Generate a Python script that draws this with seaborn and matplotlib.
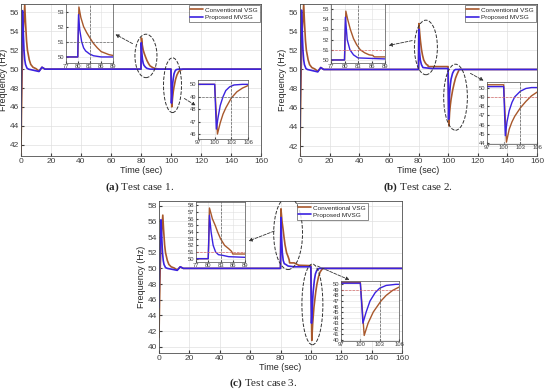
import numpy as np
import pandas as pd
import seaborn as sns
import matplotlib.pyplot as plt
from matplotlib.patches import Ellipse, FancyArrowPatch

# ---- data ----
labels = ['Conventional VSG', 'Proposed MVSG']
colors = ['#A8582C', '#3B22E0']

# Test case 1
t1_conv = [0, 0.3, 0.8, 1.5, 2.5, 3.0, 3.7, 4.3, 5.5, 6.5, 8, 10, 12, 14, 16, 80,
           80.3, 80.8, 81.5, 82.3, 83, 84, 85, 86, 87, 88, 89, 91, 93, 100,
           100.5, 101, 101.5, 102, 102.5, 103, 104, 105, 106, 108, 160]
f1_conv = [41, 45, 50, 54, 56.8, 55, 53, 52, 51, 50.5, 50.2, 50.05, 49.8, 50.2, 50, 50,
           53.3, 52.6, 52.0, 51.6, 51.3, 50.9, 50.6, 50.35, 50.25, 50.15, 50.1, 50.03, 50, 50,
           46.0, 46.9, 47.6, 48.1, 48.5, 48.9, 49.4, 49.7, 49.9, 50, 50]
t1_prop = [0, 0.3, 1.0, 1.5, 2.0, 2.5, 3.0, 4.0, 5, 12, 14, 16, 80,
           80.2, 80.5, 81, 81.5, 82, 83, 84, 86, 100,
           100.3, 100.6, 101, 101.5, 102, 102.7, 103.5, 105, 160]
f1_prop = [44, 50, 56.2, 54, 52, 51, 50.5, 50.1, 50, 49.75, 50.2, 50, 50,
           52.8, 51.8, 51.0, 50.6, 50.4, 50.2, 50.08, 50, 50,
           46.4, 47.3, 48.3, 49.0, 49.5, 49.8, 49.95, 50, 50]

# Test case 2
t2_conv = [0, 0.3, 0.8, 1.5, 2.5, 3.0, 3.7, 4.3, 5.5, 6.5, 8, 10, 12, 14, 16, 80,
           80.3, 80.7, 81.3, 82, 82.7, 83.5, 84.5, 85.5, 86.3, 86.6, 89, 100,
           100.5, 101, 101.5, 102, 103, 104, 105, 106, 107.5, 160]
f2_conv = [41, 45, 50, 54, 56.8, 55, 53, 52, 51, 50.5, 50.2, 50.05, 49.8, 50.2, 50, 50,
           54.8, 54.0, 53.0, 52.1, 51.5, 51.0, 50.7, 50.5, 50.45, 50.3, 50.3, 50.3,
           44.1, 45.5, 46.3, 46.9, 47.8, 48.5, 49.1, 49.5, 50, 50]
t2_prop = [0, 0.3, 1.0, 1.5, 2.0, 2.5, 3.0, 4.0, 5, 12, 14, 16, 80,
           80.2, 80.6, 81.2, 82, 83, 89, 100,
           100.3, 100.6, 101, 101.5, 102, 103, 104, 105, 160]
f2_prop = [44, 50, 56.2, 54, 52, 51, 50.5, 50.1, 50, 49.75, 50.2, 50, 50,
           54.2, 52.0, 51.0, 50.5, 50.2, 50.1, 50.1,
           44.8, 46.3, 47.5, 48.4, 49.0, 49.6, 49.9, 50, 50]

# Test case 3
t3_conv = [0, 0.3, 0.8, 1.5, 2.5, 3.0, 3.7, 4.3, 5.5, 6.5, 8, 10, 12, 14, 16, 80,
           80.3, 80.7, 81, 81.7, 82.3, 83, 84, 85, 85.7, 86, 89, 92, 100,
           100.6, 101.2, 102, 103.2, 104, 105, 106, 107, 108, 160]
f3_conv = [41.2, 45, 50, 54, 56.8, 55, 53, 52, 51, 50.5, 50.2, 50.05, 49.8, 50.2, 50, 50,
           57.6, 56.7, 56.0, 55.0, 54.0, 53.0, 52.0, 51.5, 51.1, 50.7, 50.7, 50.4, 50.35,
           40.8, 43.0, 45.0, 47.0, 48.0, 48.9, 49.5, 49.8, 50, 50]
t3_prop = [0, 0.3, 1.3, 1.8, 2.3, 2.8, 3.3, 4.3, 5.5, 12, 14, 16, 80,
           80.3, 80.7, 81.2, 81.8, 82.5, 83.5, 85, 89, 100,
           100.4, 100.9, 101.5, 102.3, 103, 104, 105.5, 160]
f3_prop = [45, 50, 56.2, 54, 52, 51, 50.5, 50.1, 50, 49.75, 50.2, 50, 50,
           56.5, 54.0, 52.0, 51.0, 50.6, 50.5, 50.3, 50.2, 50.2,
           43.0, 45.0, 47.0, 48.5, 49.3, 49.8, 50, 50]

captions = [('(a)', 'Test case 1.'), ('(b)', 'Test case 2.'), ('(c)', 'Test case 3.')]

W, H = 550, 392


def rect(l, t, r, b):
    return [l / W, 1 - b / H, (r - l) / W, (b - t) / H]


def fpt(x, y):
    return (x / W, 1 - y / H)


def make_df(tc, fc, tp, fp):
    a = pd.DataFrame({'Time': tc, 'Frequency': fc, 'Controller': labels[0]})
    b = pd.DataFrame({'Time': tp, 'Frequency': fp, 'Controller': labels[1]})
    return pd.concat([a, b], ignore_index=True)


sns.set_style('whitegrid', {'axes.edgecolor': '0.3', 'grid.color': '0.88',
                            'xtick.bottom': True, 'ytick.left': True,
                            'xtick.direction': 'in', 'ytick.direction': 'in'})
plt.rcParams['font.family'] = ['Liberation Sans', 'DejaVu Sans']
plt.rcParams['mathtext.fontset'] = 'custom'
plt.rcParams['mathtext.bf'] = 'Liberation Serif:bold'
plt.rcParams['mathtext.rm'] = 'Liberation Serif'

fig = plt.figure(figsize=(5.5, 3.92), dpi=100)

panels = [
    dict(df=make_df(t1_conv, f1_conv, t1_prop, f1_prop),
         main=(21, 4, 261, 156), ylim=(40.8, 56.9), yt=range(42, 57, 2),
         up=(66, 4, 113, 63), up_ylim=(49.6, 53.5), up_yt=range(50, 54),
         lo=(198, 80, 248, 139), lo_ylim=(45.6, 50.35), lo_yt=range(46, 51),
         ell=[(83.3, 51.4, 14.7, 4.6), (101, 48.3, 12, 5.8)],
         arr=[((135, 45), (113, 33)), ((182, 97), (198, 107))],
         leg=(261, 4), cap=(140, 187), hcol='0.4'),
    dict(df=make_df(t2_conv, f2_conv, t2_prop, f2_prop),
         main=(300, 4, 537, 156), ylim=(40.96, 56.84), yt=range(42, 57, 2),
         up=(331, 4, 385, 63), up_ylim=(49.7, 55.5), up_yt=range(50, 56),
         lo=(487, 82, 537, 144), lo_ylim=(43.9, 50.6), lo_yt=range(44, 51),
         ell=[(85, 52.3, 15.5, 5.7), (105, 47.1, 16, 6.9)],
         arr=[((415, 40), (386, 46)), ((468, 72), (486, 82))],
         leg=(537, 4), cap=(418, 187), hcol='#D86A6A'),
    dict(df=make_df(t3_conv, f3_conv, t3_prop, f3_prop),
         main=(159, 201, 402, 353), ylim=(39.2, 58.6), yt=range(40, 59, 2),
         up=(196, 202, 245, 262), up_ylim=(49.5, 58.5), up_yt=range(50, 59),
         lo=(341, 281, 399, 341), lo_ylim=(39.8, 50.6), lo_yt=range(40, 51),
         ell=[(85, 54.5, 19, 9.3), (101, 45.4, 13.8, 10.3)],
         arr=[((277, 230), (246, 242)), ((315, 265), (352, 281))],
         leg=(369, 202), cap=(263, 383), hcol='#D86A6A'),
]

for i, p in enumerate(panels):
    ax = fig.add_axes(rect(*p['main']))
    sns.lineplot(data=p['df'], x='Time', y='Frequency', hue='Controller',
                 palette=colors, sort=False, estimator=None, lw=1.2, ax=ax)
    ax.set_xlim(0, 160)
    ax.set_ylim(*p['ylim'])
    ax.set_xticks(range(0, 161, 20))
    ax.set_yticks(list(p['yt']))
    ax.tick_params(labelsize=6, colors='0.25', length=2, pad=1.5)
    ax.set_xlabel('Time (sec)', fontsize=6.5, labelpad=0.5, color='0.15')
    ax.set_ylabel('Frequency (Hz)', fontsize=6.5, labelpad=1, color='0.15')
    ax.grid(True, lw=0.5)
    for s in ax.spines.values():
        s.set_linewidth(0.6)
    leg = ax.legend(loc='upper right', bbox_to_anchor=fpt(*p['leg']),
                    bbox_transform=fig.transFigure, fontsize=4.6, frameon=True,
                    fancybox=False, handlelength=1.9, borderpad=0.3,
                    labelspacing=0.25, handletextpad=0.4, borderaxespad=0.2)
    leg.get_frame().set_edgecolor('0.2')
    leg.get_frame().set_linewidth(0.5)

    for (cx, cy, w, h) in p['ell']:
        ax.add_patch(Ellipse((cx, cy), w, h, fill=False, ls='--', lw=0.7,
                             ec='0.2', zorder=5))

    for key, xl, xt, yl, yt, vx, hy in [
            ('up', (77, 89), [77, 80, 83, 86, 89], p['up_ylim'], p['up_yt'], 83, 51),
            ('lo', (97, 106), [97, 100, 103, 106], p['lo_ylim'], p['lo_yt'], 103, 49)]:
        ia = fig.add_axes(rect(*p[key]))
        sns.lineplot(data=p['df'], x='Time', y='Frequency', hue='Controller',
                     palette=colors, sort=False, estimator=None, lw=1.0,
                     legend=False, ax=ia)
        ia.axvline(vx, ls='--', lw=0.5, color='0.35')
        ia.axhline(hy, ls='--', lw=0.5, color=p['hcol'])
        ia.set_xlim(*xl)
        ia.set_ylim(*yl)
        ia.set_xticks(xt)
        ia.set_yticks(list(yt))
        ia.tick_params(labelsize=4.2, colors='0.25', length=1.5, pad=1)
        ia.set_xlabel('')
        ia.set_ylabel('')
        ia.grid(True, lw=0.4)
        for s in ia.spines.values():
            s.set_linewidth(0.5)

    for start, end in p['arr']:
        fig.add_artist(FancyArrowPatch(
            fpt(*start), fpt(*end), transform=fig.transFigure,
            arrowstyle='-|>', mutation_scale=5, ls='--', lw=0.6, color='0.2'))

    tag, txt = captions[i]
    fig.text(p['cap'][0] / W, 1 - p['cap'][1] / H,
             r'$\mathbf{' + tag + r'}$ ' + txt,
             ha='center', va='center', fontsize=8, family='Liberation Serif')

fig.savefig('out.png', dpi=100)
